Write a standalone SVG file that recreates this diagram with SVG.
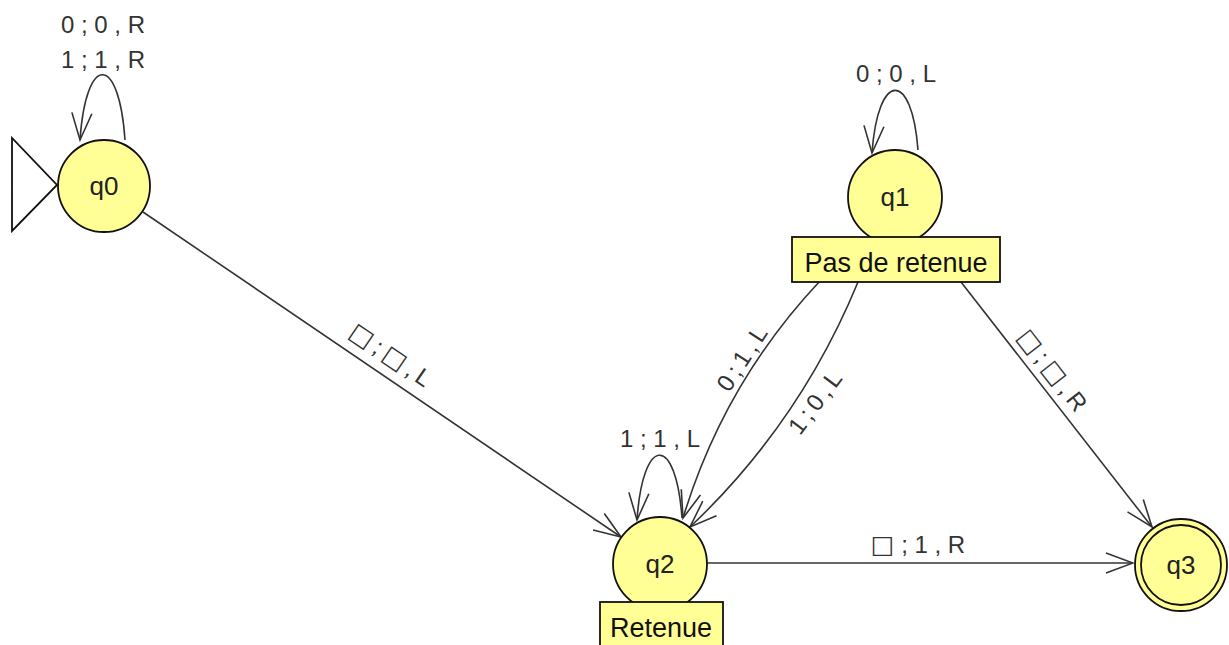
<svg xmlns="http://www.w3.org/2000/svg" width="1229" height="645" viewBox="0 0 1229 645">
  <style>
    .state { fill: #ffff96; stroke: #111; stroke-width: 1.8; }
    .tag { fill: #ffff96; stroke: #111; stroke-width: 1.8; }
    .edge { fill: none; stroke: #333; stroke-width: 1.6; marker-end: url(#arrow); }
    .slabel { font-family: "Liberation Sans", Arial, sans-serif; font-size: 26px; fill: #222; text-anchor: middle; }
    .tlabel { font-family: "Liberation Sans", Arial, sans-serif; font-size: 27px; fill: #111; text-anchor: middle; }
    .elabel { font-family: "Liberation Sans", "DejaVu Sans", Arial, sans-serif; font-size: 24px; fill: #333; text-anchor: middle; }
    .tight { letter-spacing: -1px; }
    .blank { font-family: "DejaVu Sans", sans-serif; font-size: 25px; }
  </style>
  <defs>
    <marker id="arrow" viewBox="-30 -12 32 24" refX="0" refY="0" markerWidth="32" markerHeight="24" markerUnits="userSpaceOnUse" orient="auto">
      <path d="M-27,-10 L0,0 L-27,10" fill="none" stroke="#333" stroke-width="1.6"/>
    </marker>
  </defs>
  <rect width="1229" height="645" fill="#ffffff"/>

  <!-- transitions -->
  <g id="connectors">
    <path class="edge" d="M143,212 L621,537"/>
    <path class="edge" d="M961,282 L1152,527"/>
    <path class="edge" d="M707,563 L1133,563"/>
    <path class="edge" d="M820,281 Q724,383 683,518"/>
    <path class="edge" d="M858,282 Q800,423 690,527"/>
    <path class="edge" d="M125,140 C119,53 86,53 80,140"/>
    <path class="edge" d="M918,150 C912,70 878,70 872,153"/>
    <path class="edge" d="M682,518 C676,434 643,434 637,520"/>

    <text class="elabel" x="103" y="33">0 ; 0 , R</text>
    <text class="elabel" x="103" y="68">1 ; 1 , R</text>
    <text class="elabel" x="896" y="82">0 ; 0 , L</text>
    <text class="elabel" x="660" y="447">1 ; 1 , L</text>
    <text class="elabel" x="918" y="553"><tspan class="blank">□</tspan> ; 1 , R</text>
    <text class="elabel tight" transform="translate(390,355) rotate(34.2)" y="8"><tspan class="blank">□</tspan> ; <tspan class="blank">□</tspan> , L</text>
    <text class="elabel tight" transform="translate(1052,370) rotate(52)" y="8"><tspan class="blank">□</tspan> ; <tspan class="blank">□</tspan> , R</text>
    <text class="elabel tight" transform="translate(742,359) rotate(-57)" y="8">0 ; 1 , L</text>
    <text class="elabel tight" transform="translate(815,403) rotate(-53)" y="8">1 ; 0 , L</text>
  </g>

  <!-- start state -->
  <g id="q0">
    <polygon points="12,138 12,231 57,185" fill="#ffffff" stroke="#111" stroke-width="1.8"/>
    <circle class="state" cx="104" cy="186" r="46"/>
    <text class="slabel" x="104" y="195">q0</text>
  </g>

  <g id="q1">
    <circle class="state" cx="895" cy="197" r="47"/>
    <text class="slabel" x="895" y="206">q1</text>
    <rect class="tag" x="792" y="237" width="208" height="45"/>
    <text class="tlabel" x="896" y="272">Pas de retenue</text>
  </g>

  <g id="q2">
    <circle class="state" cx="660" cy="564" r="47"/>
    <text class="slabel" x="660" y="573">q2</text>
    <rect class="tag" x="600" y="602" width="123" height="46"/>
    <text class="tlabel" x="661" y="637">Retenue</text>
  </g>

  <!-- accepting state -->
  <g id="q3">
    <circle class="state" cx="1181" cy="565" r="46"/>
    <circle cx="1181" cy="565" r="40" fill="none" stroke="#111" stroke-width="1.8"/>
    <text class="slabel" x="1181" y="574">q3</text>
  </g>
</svg>
